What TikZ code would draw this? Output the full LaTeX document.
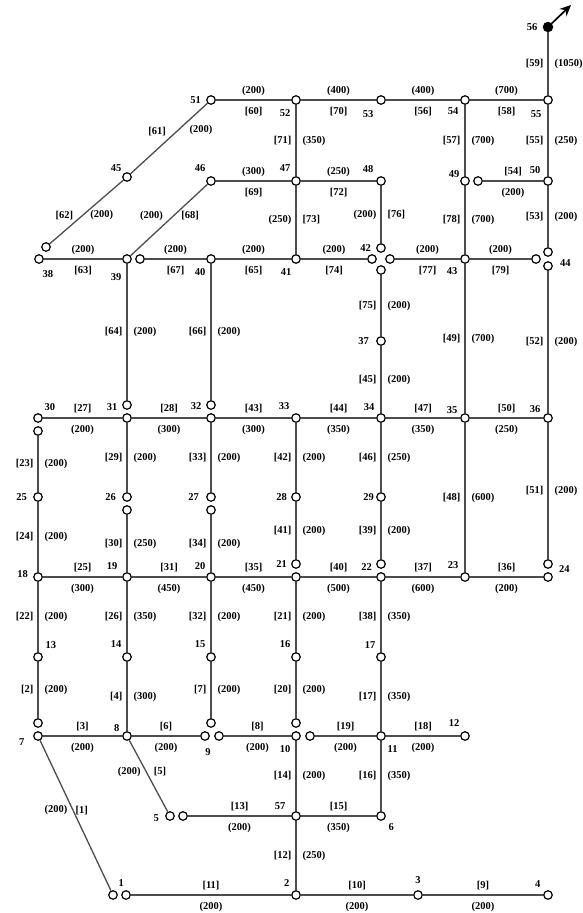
\documentclass[tikz,border=0pt]{standalone}
\usepackage{fontspec}
\setmainfont{Liberation Serif}
\usepackage{tikz}
\usetikzlibrary{arrows.meta, positioning}
\definecolor{pipegray}{HTML}{4D4D4D}

\begin{document}
\begin{tikzpicture}[x=1pt, y=-1pt,
    jn/.style={circle, draw, fill=white, line width=1.2pt, minimum size=8.5pt, inner sep=0pt},
    src/.style={circle, fill=black, minimum size=10.5pt, inner sep=0pt},
    pipe/.style={draw=pipegray, line width=1.3pt},
    tag/.style={font=\fontsize{10.5}{12}\selectfont\bfseries, inner sep=1pt},
    nlab/.style={font=\fontsize{10.5}{12}\selectfont\bfseries, inner sep=1pt},
    arr/.style={-{Stealth[length=11pt, width=10pt]}, line width=1.7pt}
]
\useasboundingbox (0,0) rectangle (583,913);

% junctions, top rows
\node[jn] (n51) at (211,100) {};
\node[jn] (n52) at (296,100) {};
\node[jn] (n53) at (381,100) {};
\node[jn] (n54) at (465,100) {};
\node[jn] (n55) at (548,100) {};
\node[src] (n56) at (548,27) {};
\coordinate (out) at (571,5);

\node[jn] (n45) at (127,177) {};
\node[jn] (n46) at (211,181) {};
\node[jn] (n47) at (296,181) {};
\node[jn] (n48) at (381,181) {};
\node[jn] (n49) at (465,181) {};
\node[jn] (n49b) at (478,181) {};
\node[jn] (n50) at (548,181) {};

\node[jn] (n38) at (39,259) {};
\node[jn] (n38b) at (46,247) {};
\node[jn] (n39) at (127,259) {};
\node[jn] (n39b) at (140,259) {};
\node[jn] (n40) at (211,259) {};
\node[jn] (n41) at (296,259) {};
\node[jn] (n42) at (381,248) {};
\node[jn] (n42l) at (372,259) {};
\node[jn] (n42r) at (390,259) {};
\node[jn] (n42d) at (381,270) {};
\node[jn] (n43) at (465,259) {};
\node[jn] (n44l) at (536,259) {};
\node[jn] (n44) at (548,252) {};
\node[jn] (n44d) at (548,266) {};

\node[jn] (n37) at (381,341) {};

% junctions, middle rows
\node[jn] (n30) at (38,418) {};
\node[jn] (n30b) at (38,431) {};
\node[jn] (n31) at (127,418) {};
\node[jn] (n31b) at (127,405) {};
\node[jn] (n32) at (211,418) {};
\node[jn] (n32b) at (211,405) {};
\node[jn] (n33) at (296,418) {};
\node[jn] (n34) at (381,418) {};
\node[jn] (n35) at (465,418) {};
\node[jn] (n36) at (548,418) {};

\node[jn] (n25) at (38,497) {};
\node[jn] (n26) at (127,497) {};
\node[jn] (n26b) at (127,510) {};
\node[jn] (n27) at (211,497) {};
\node[jn] (n27b) at (211,510) {};
\node[jn] (n28) at (296,497) {};
\node[jn] (n29) at (381,497) {};

\node[jn] (n18) at (38,577) {};
\node[jn] (n19) at (127,577) {};
\node[jn] (n20) at (211,577) {};
\node[jn] (n21) at (296,577) {};
\node[jn] (n21b) at (296,564) {};
\node[jn] (n22) at (381,577) {};
\node[jn] (n22b) at (381,564) {};
\node[jn] (n23) at (465,577) {};
\node[jn] (n24) at (548,577) {};
\node[jn] (n24b) at (548,564) {};

% junctions, bottom rows
\node[jn] (n13) at (38,657) {};
\node[jn] (n14) at (127,657) {};
\node[jn] (n15) at (211,657) {};
\node[jn] (n16) at (296,657) {};
\node[jn] (n17) at (381,657) {};

\node[jn] (n7) at (38,736) {};
\node[jn] (n7b) at (38,723) {};
\node[jn] (n8) at (127,736) {};
\node[jn] (n9) at (205,736) {};
\node[jn] (n9b) at (211,723) {};
\node[jn] (n9c) at (219,736) {};
\node[jn] (n10) at (296,736) {};
\node[jn] (n10b) at (296,723) {};
\node[jn] (n10c) at (310,736) {};
\node[jn] (n11) at (381,736) {};
\node[jn] (n12) at (465,736) {};

\node[jn] (n5) at (170,816) {};
\node[jn] (n5b) at (183,816) {};
\node[jn] (n57) at (296,816) {};
\node[jn] (n6) at (381,816) {};

\node[jn] (n1) at (113,895) {};
\node[jn] (n1b) at (126,895) {};
\node[jn] (n2) at (296,895) {};
\node[jn] (n3) at (418,895) {};
\node[jn] (n4) at (548,895) {};

% junction numbers
\node[nlab, left=4pt of n51] (t51) {51};
\node[nlab, below left=5pt and 1pt of n52] (t52) {52};
\node[nlab, below left=6pt and 3pt of n53] (t53) {53};
\node[nlab, below left=3pt and 2pt of n54] (t54) {54};
\node[nlab, below left=6pt and 2pt of n55] (t55) {55};
\node[nlab, left=4pt of n56] (t56) {56};
\node[nlab, above left=1pt and 1pt of n45] (t45) {45};
\node[nlab, above left=5pt and 1pt of n46] (t46) {46};
\node[nlab, above left=5pt and 1pt of n47] (t47) {47};
\node[nlab, above left=4pt and 3pt of n48] (t48) {48};
\node[nlab, above left=-1pt and 1pt of n49] (t49) {49};
\node[nlab, above left=3pt and 3pt of n50] (t50) {50};
\node[nlab, below right=7pt and -1pt of n38] (t38) {38};
\node[nlab, below left=10pt and 1pt of n39] (t39) {39};
\node[nlab, below left=5pt and 1pt of n40] (t40) {40};
\node[nlab, below left=5pt and 0pt of n41] (t41) {41};
\node[nlab, left=4pt of n42] (t42) {42};
\node[nlab, below left=4pt and 3pt of n43] (t43) {43};
\node[nlab, right=6pt of n44d, yshift=3pt] (t44) {44};
\node[nlab, left=6pt of n37] (t37) {37};
\node[nlab, above right=3pt and 2pt of n30] (t30) {30};
\node[nlab, above left=3pt and 5pt of n31] (t31) {31};
\node[nlab, above left=4pt and 5pt of n32] (t32) {32};
\node[nlab, above left=4pt and 2pt of n33] (t33) {33};
\node[nlab, above left=3pt and 2pt of n34] (t34) {34};
\node[nlab, above left=0pt and 3pt of n35] (t35) {35};
\node[nlab, above left=1pt and 3pt of n36] (t36) {36};
\node[nlab, left=5pt of n25] (t25) {25};
\node[nlab, left=5pt of n26] (t26) {26};
\node[nlab, left=6pt of n27] (t27) {27};
\node[nlab, left=3pt of n28] (t28) {28};
\node[nlab, left=1pt of n29] (t29) {29};
\node[nlab, left=3pt of n21b] (t21) {21};
\node[nlab, left=3pt of n22b, yshift=-3pt] (t22) {22};
\node[nlab, right=5pt of n24b, yshift=-5pt] (t24) {24};
\node[nlab, left=4pt of n18, yshift=3pt] (t18) {18};
\node[nlab, above left=3pt and 5pt of n19] (t19) {19};
\node[nlab, above left=3pt and 1pt of n20] (t20) {20};
\node[nlab, above left=4pt and 2pt of n23] (t23) {23};
\node[nlab, above right=4pt and 3pt of n13] (t13) {13};
\node[nlab, above left=5pt and 1pt of n14] (t14) {14};
\node[nlab, above left=5pt and 1pt of n15] (t15) {15};
\node[nlab, above left=5pt and 1pt of n16] (t16) {16};
\node[nlab, above left=4pt and 1pt of n17] (t17) {17};
\node[nlab, below left=-2pt and 9pt of n7] (t7) {7};
\node[nlab, above left=0pt and 3pt of n8] (t8) {8};
\node[nlab, below=6pt of n9, xshift=3pt] (t9) {9};
\node[nlab, below left=5pt and 1pt of n10] (t10) {10};
\node[nlab, below right=5pt and 2pt of n11] (t11) {11};
\node[nlab, above left=5pt and 1pt of n12] (t12) {12};
\node[nlab, left=5pt of n5, yshift=-2pt] (t5) {5};
\node[nlab, above left=2pt and 6pt of n57] (t57) {57};
\node[nlab, below right=3pt and 3pt of n6] (t6) {6};
\node[nlab, above right=4pt and 1pt of n1] (t1) {1};
\node[nlab, above left=4pt and 2pt of n2] (t2) {2};
\node[nlab, above=5pt of n3] (t3) {3};
\node[nlab, above left=3pt and 3pt of n4] (t4) {4};

% outlet
\draw[arr] (n56) -- (out);

% horizontal pipes
\draw[pipe] (n51) -- node[tag, above=3pt] {(200)} node[tag, below=5.5pt] {[60]} (n52);
\draw[pipe] (n52) -- node[tag, above=3pt] {(400)} node[tag, below=5.5pt] {[70]} (n53);
\draw[pipe] (n53) -- node[tag, above=3pt] {(400)} node[tag, below=5.5pt] {[56]} (n54);
\draw[pipe] (n54) -- node[tag, above=3pt] {(700)} node[tag, below=5.5pt] {[58]} (n55);
\draw[pipe] (n46) -- node[tag, above=3pt] {(300)} node[tag, below=5.5pt] {[69]} (n47);
\draw[pipe] (n47) -- node[tag, above=3pt] {(250)} node[tag, below=5.5pt] {[72]} (n48);
\draw[pipe] (n49b) -- node[tag, above=3pt] {[54]} node[tag, below=5.5pt] {(200)} (n50);
\draw[pipe] (n38) -- node[tag, above=3pt] {(200)} node[tag, below=5.5pt] {[63]} (n39);
\draw[pipe] (n39b) -- node[tag, above=3pt] {(200)} node[tag, below=5.5pt] {[67]} (n40);
\draw[pipe] (n40) -- node[tag, above=3pt] {(200)} node[tag, below=5.5pt] {[65]} (n41);
\draw[pipe] (n41) -- node[tag, above=3pt] {(200)} node[tag, below=5.5pt] {[74]} (n42l);
\draw[pipe] (n42r) -- node[tag, above=3pt] {(200)} node[tag, below=5.5pt] {[77]} (n43);
\draw[pipe] (n43) -- node[tag, above=3pt] {(200)} node[tag, below=5.5pt] {[79]} (n44l);
\draw[pipe] (n30) -- node[tag, above=3pt] {[27]} node[tag, below=5.5pt] {(200)} (n31);
\draw[pipe] (n31) -- node[tag, above=3pt] {[28]} node[tag, below=5.5pt] {(300)} (n32);
\draw[pipe] (n32) -- node[tag, above=3pt] {[43]} node[tag, below=5.5pt] {(300)} (n33);
\draw[pipe] (n33) -- node[tag, above=3pt] {[44]} node[tag, below=5.5pt] {(350)} (n34);
\draw[pipe] (n34) -- node[tag, above=3pt] {[47]} node[tag, below=5.5pt] {(350)} (n35);
\draw[pipe] (n35) -- node[tag, above=3pt] {[50]} node[tag, below=5.5pt] {(250)} (n36);
\draw[pipe] (n18) -- node[tag, above=3pt] {[25]} node[tag, below=5.5pt] {(300)} (n19);
\draw[pipe] (n19) -- node[tag, above=3pt] {[31]} node[tag, below=5.5pt] {(450)} (n20);
\draw[pipe] (n20) -- node[tag, above=3pt] {[35]} node[tag, below=5.5pt] {(450)} (n21);
\draw[pipe] (n21) -- node[tag, above=3pt] {[40]} node[tag, below=5.5pt] {(500)} (n22);
\draw[pipe] (n22) -- node[tag, above=3pt] {[37]} node[tag, below=5.5pt] {(600)} (n23);
\draw[pipe] (n23) -- node[tag, above=3pt] {[36]} node[tag, below=5.5pt] {(200)} (n24);
\draw[pipe] (n7) -- node[tag, above=3pt] {[3]} node[tag, below=5.5pt] {(200)} (n8);
\draw[pipe] (n8) -- node[tag, above=3pt] {[6]} node[tag, below=5.5pt] {(200)} (n9);
\draw[pipe] (n9c) -- node[tag, above=3pt] {[8]} node[tag, below=5.5pt] {(200)} (n10);
\draw[pipe] (n10c) -- node[tag, above=3pt] {[19]} node[tag, below=5.5pt] {(200)} (n11);
\draw[pipe] (n11) -- node[tag, above=3pt] {[18]} node[tag, below=5.5pt] {(200)} (n12);
\draw[pipe] (n5b) -- node[tag, above=3pt] {[13]} node[tag, below=5.5pt] {(200)} (n57);
\draw[pipe] (n57) -- node[tag, above=3pt] {[15]} node[tag, below=5.5pt] {(350)} (n6);
\draw[pipe] (n1b) -- node[tag, above=3pt] {[11]} node[tag, below=5.5pt] {(200)} (n2);
\draw[pipe] (n2) -- node[tag, above=3pt] {[10]} node[tag, below=5.5pt] {(200)} (n3);
\draw[pipe] (n3) -- node[tag, above=3pt] {[9]} node[tag, below=5.5pt] {(200)} (n4);

% vertical pipes
\draw[pipe] (n56) -- node[tag, left=3pt] {[59]} node[tag, right=5pt] {(1050)} (n55);
\draw[pipe] (n52) -- node[tag, left=3pt] {[71]} node[tag, right=5pt] {(350)} (n47);
\draw[pipe] (n54) -- node[tag, left=3pt] {[57]} node[tag, right=5pt] {(700)} (n49);
\draw[pipe] (n55) -- node[tag, left=3pt] {[55]} node[tag, right=5pt] {(250)} (n50);
\draw[pipe] (n47) -- node[tag, left=3pt] {(250)} node[tag, right=5pt] {[73]} (n41);
\draw[pipe] (n48) -- node[tag, left=3pt] {(200)} node[tag, right=5pt] {[76]} (n42);
\draw[pipe] (n49) -- node[tag, left=3pt] {[78]} node[tag, right=5pt] {(700)} (n43);
\draw[pipe] (n50) -- node[tag, left=3pt] {[53]} node[tag, right=5pt] {(200)} (n44);
\draw[pipe] (n42d) -- node[tag, left=3pt] {[75]} node[tag, right=5pt] {(200)} (n37);
\draw[pipe] (n39) -- node[tag, left=3pt] {[64]} node[tag, right=5pt] {(200)} (n31b);
\draw[pipe] (n40) -- node[tag, left=3pt] {[66]} node[tag, right=5pt] {(200)} (n32b);
\draw[pipe] (n43) -- node[tag, left=3pt] {[49]} node[tag, right=5pt] {(700)} (n35);
\draw[pipe] (n44d) -- node[tag, left=3pt] {[52]} node[tag, right=5pt] {(200)} (n36);
\draw[pipe] (n37) -- node[tag, left=3pt] {[45]} node[tag, right=5pt] {(200)} (n34);
\draw[pipe] (n30b) -- node[tag, left=3pt] {[23]} node[tag, right=5pt] {(200)} (n25);
\draw[pipe] (n31) -- node[tag, left=3pt] {[29]} node[tag, right=5pt] {(200)} (n26);
\draw[pipe] (n32) -- node[tag, left=3pt] {[33]} node[tag, right=5pt] {(200)} (n27);
\draw[pipe] (n33) -- node[tag, left=3pt] {[42]} node[tag, right=5pt] {(200)} (n28);
\draw[pipe] (n34) -- node[tag, left=3pt] {[46]} node[tag, right=5pt] {(250)} (n29);
\draw[pipe] (n35) -- node[tag, left=3pt] {[48]} node[tag, right=5pt] {(600)} (n23);
\draw[pipe] (n36) -- node[tag, left=3pt] {[51]} node[tag, right=5pt] {(200)} (n24b);
\draw[pipe] (n25) -- node[tag, left=3pt] {[24]} node[tag, right=5pt] {(200)} (n18);
\draw[pipe] (n26b) -- node[tag, left=3pt] {[30]} node[tag, right=5pt] {(250)} (n19);
\draw[pipe] (n27b) -- node[tag, left=3pt] {[34]} node[tag, right=5pt] {(200)} (n20);
\draw[pipe] (n28) -- node[tag, left=3pt] {[41]} node[tag, right=5pt] {(200)} (n21b);
\draw[pipe] (n29) -- node[tag, left=3pt] {[39]} node[tag, right=5pt] {(200)} (n22b);
\draw[pipe] (n18) -- node[tag, left=3pt] {[22]} node[tag, right=5pt] {(200)} (n13);
\draw[pipe] (n19) -- node[tag, left=3pt] {[26]} node[tag, right=5pt] {(350)} (n14);
\draw[pipe] (n20) -- node[tag, left=3pt] {[32]} node[tag, right=5pt] {(200)} (n15);
\draw[pipe] (n21) -- node[tag, left=3pt] {[21]} node[tag, right=5pt] {(200)} (n16);
\draw[pipe] (n22) -- node[tag, left=3pt] {[38]} node[tag, right=5pt] {(350)} (n17);
\draw[pipe] (n13) -- node[tag, left=3pt] {[2]} node[tag, right=5pt] {(200)} (n7b);
\draw[pipe] (n14) -- node[tag, left=3pt] {[4]} node[tag, right=5pt] {(300)} (n8);
\draw[pipe] (n15) -- node[tag, left=3pt] {[7]} node[tag, right=5pt] {(200)} (n9b);
\draw[pipe] (n16) -- node[tag, left=3pt] {[20]} node[tag, right=5pt] {(200)} (n10b);
\draw[pipe] (n17) -- node[tag, left=3pt] {[17]} node[tag, right=5pt] {(350)} (n11);
\draw[pipe] (n10) -- node[tag, left=3pt] {[14]} node[tag, right=5pt] {(200)} (n57);
\draw[pipe] (n11) -- node[tag, left=3pt] {[16]} node[tag, right=5pt] {(350)} (n6);
\draw[pipe] (n57) -- node[tag, left=3pt] {[12]} node[tag, right=5pt] {(250)} (n2);

% slanted pipes
\draw[pipe] (n51) -- node[tag, pos=0.5, above left=2pt] {[61]} node[tag, pos=0.27, below right=2pt] {(200)} (n45);
\draw[pipe] (n45) -- node[tag, pos=0.55, left=8pt] {[62]} node[tag, pos=0.55, right=6pt] {(200)} (n38b);
\draw[pipe] (n39) -- node[tag, pos=0.56, left=9pt] {(200)} node[tag, pos=0.56, right=6pt] {[68]} (n46);
\draw[pipe] (n8) -- node[tag, pos=0.44, left=4pt] {(200)} node[tag, pos=0.44, right=6pt] {[5]} (n5);
\draw[pipe] (n7) -- node[tag, pos=0.465, left=4pt] {(200)} node[tag, pos=0.465, right=1pt] {[1]} (n1);
\end{tikzpicture}
\end{document}
